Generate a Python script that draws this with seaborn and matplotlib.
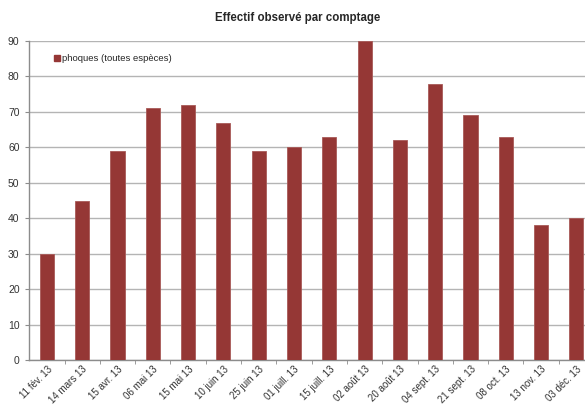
import numpy as np
import pandas as pd
import matplotlib
matplotlib.use("Agg")
import matplotlib.pyplot as plt
import seaborn as sns
from matplotlib.patches import Patch

# dates des comptages et effectifs
dates = ["11 fév. 13", "14 mars 13", "15 avr. 13", "06 mai 13", "15 mai 13",
         "10 juin 13", "25 juin 13", "01 juill. 13", "15 juill. 13", "02 août 13",
         "20 août 13", "04 sept. 13", "21 sept. 13", "08 oct. 13", "13 nov. 13",
         "03 déc. 13"]
phoques = [30, 45, 59, 71, 72, 67, 59, 60, 63, 90, 62, 78, 69, 63, 38, 40]

df = pd.DataFrame({"date": dates, "effectif": phoques})

sns.set_style("white")
plt.rcParams['font.family'] = ['Liberation Sans', 'DejaVu Sans']

couleur = "#953735"

fig = plt.figure(figsize=(5.85, 4.08), dpi=100)
ax = fig.add_axes([29.3 / 585, 1 - 360 / 408, (594 - 29.3) / 585, (360 - 41) / 408])

sns.barplot(data=df, x="date", y="effectif", color=couleur, width=0.4,
            saturation=1, ax=ax, zorder=3, edgecolor="#a85a58", linewidth=0.6)

ax.set_ylim(0, 90)
ax.set_xlim(-0.5, len(dates) - 0.5)
ax.set_yticks(range(0, 91, 10))
ax.yaxis.grid(True, color="#b4b4b4", linewidth=1)
ax.set_axisbelow(True)
ax.set_xlabel("")
ax.set_ylabel("")

for s in ["top", "right"]:
    ax.spines[s].set_visible(False)
for s in ["left", "bottom"]:
    ax.spines[s].set_color("#8c8c8c")
    ax.spines[s].set_linewidth(1)

ax.tick_params(axis="y", labelsize=7.5, length=3, color="#8c8c8c", pad=4,
               left=True, labelcolor="#333333")
ax.tick_params(axis="x", which="major", length=0, labelsize=7, pad=3,
               labelcolor="#333333")
ax.set_xticks(np.arange(len(dates) - 1) + 0.5, minor=True)
ax.tick_params(axis="x", which="minor", length=3, color="#8c8c8c", bottom=True)
plt.setp(ax.get_xticklabels(), rotation=45, ha="right", rotation_mode="anchor")

ax.legend(handles=[Patch(color=couleur, label="phoques (toutes espèces)")],
          loc="upper left", bbox_to_anchor=(0.028, 0.985), frameon=False,
          fontsize=6.8, handlelength=0.7, handleheight=0.7, handletextpad=0.2)

fig.text(298 / 585, 1 - 18 / 408, "Effectif observé par comptage",
         ha="center", va="center", fontsize=8.3, fontweight="bold")

fig.savefig("out.png", dpi=100)
